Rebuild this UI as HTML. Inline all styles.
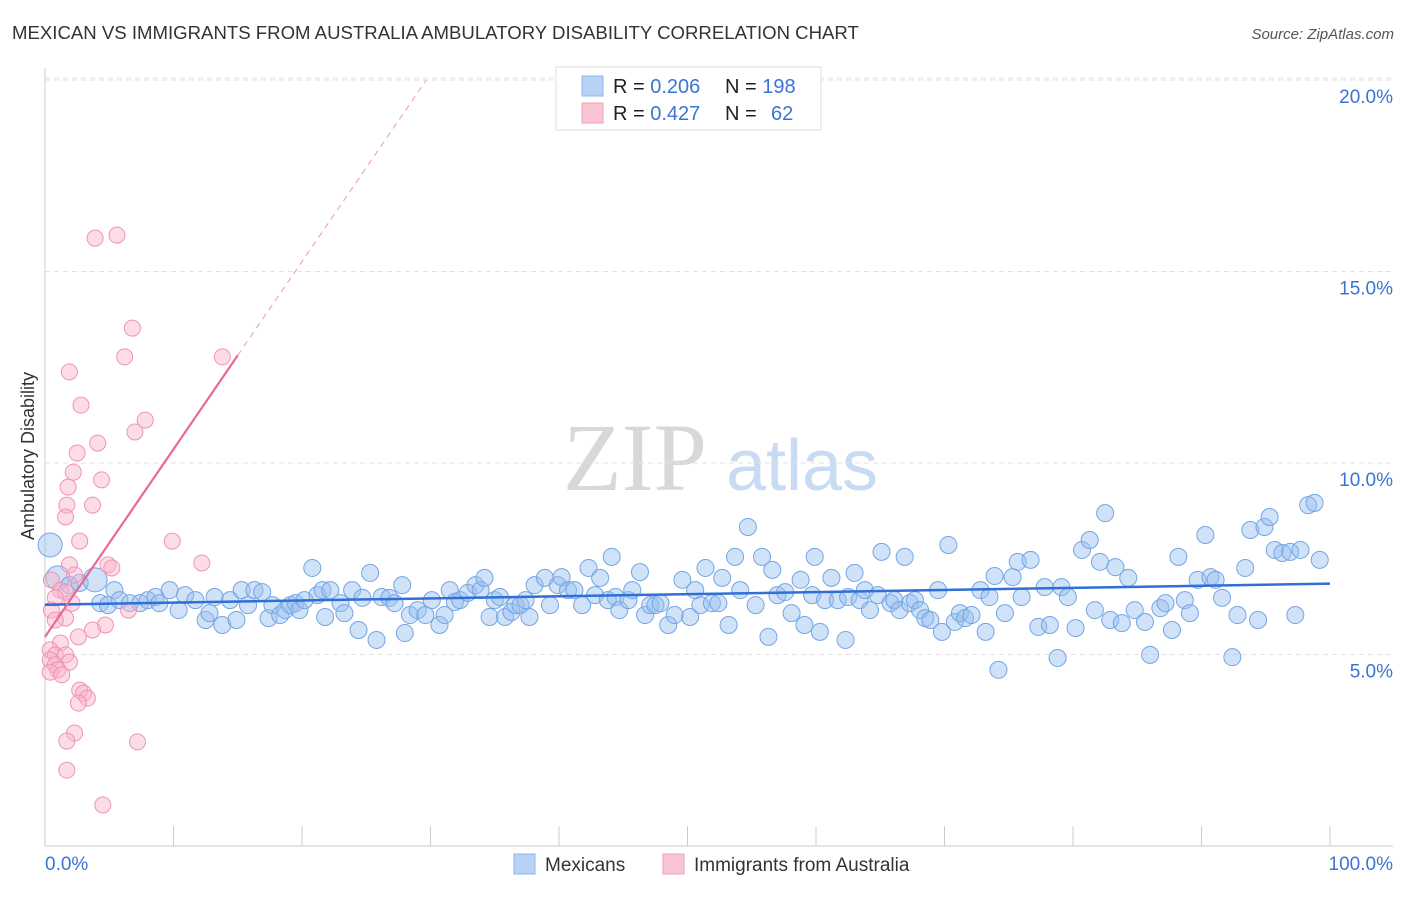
<!DOCTYPE html>
<html><head><meta charset="utf-8"><style>
body{margin:0;background:#fff;font-family:"Liberation Sans",sans-serif;}
svg text{font-family:"Liberation Sans",sans-serif;}
</style></head><body>
<svg id="chart" width="1406" height="892" xmlns="http://www.w3.org/2000/svg">
<text x="12" y="39" font-size="18.6" fill="#333">MEXICAN VS IMMIGRANTS FROM AUSTRALIA AMBULATORY DISABILITY CORRELATION CHART</text>
<text x="1394" y="39" font-size="15" fill="#555" font-style="italic" text-anchor="end">Source: ZipAtlas.com</text>
<g>
<text x="635" y="490" font-size="96" fill="#d8d8d8" text-anchor="middle" style="font-family:'Liberation Serif',serif">ZIP</text>
<text x="802" y="490" font-size="72" fill="#c9dbf2" text-anchor="middle">atlas</text>
</g>
<g id="grid"></g>
<g id="axes"></g>
<g id="pts"></g>
<g id="trend"></g>
<text transform="translate(34,456) rotate(-90)" font-size="18" fill="#333" text-anchor="middle">Ambulatory Disability</text>
<g>
<rect x="556" y="67" width="265" height="63" fill="#fff" stroke="#ddd"/>
<rect x="582" y="76" width="21" height="20" fill="#b7d2f5" stroke="#8fb5ea"/>
<rect x="582" y="103" width="21" height="20" fill="#f9c5d5" stroke="#f0a0b9"/>
<text x="613" y="93" font-size="20" fill="#222">R = <tspan fill="#3b74d4">0.206</tspan></text>
<text x="725" y="93" font-size="20" fill="#222">N = <tspan fill="#3b74d4">198</tspan></text>
<text x="613" y="120" font-size="20" fill="#222">R = <tspan fill="#3b74d4">0.427</tspan></text>
<text x="725" y="120" font-size="20" fill="#222">N = </text>
<text x="771" y="120" font-size="20" fill="#3b74d4">62</text>
</g>
<g>
<rect x="514" y="854" width="21" height="20" fill="#b7d2f5" stroke="#8fb5ea"/>
<text x="545" y="871" font-size="19" fill="#333">Mexicans</text>
<rect x="663" y="854" width="21" height="20" fill="#f9c5d5" stroke="#f0a0b9"/>
<text x="694" y="871" font-size="19" fill="#333">Immigrants from Australia</text>
</g>
</svg>
<script>
const yTicks=[5,10,15,20];
const yTickLabels=["5.0%","10.0%","15.0%","20.0%"];
const xTickLabels=["0.0%","100.0%"];
const blueX=[0.4,1.0,1.9,2.7,3.9,4.3,4.9,5.4,5.8,6.6,7.4,8.0,8.6,8.9,9.7,10.4,10.9,11.7,12.5,12.8,13.2,13.8,14.4,14.9,15.3,15.8,16.3,16.9,17.4,17.7,18.3,18.7,19.1,19.5,19.8,20.2,20.8,21.2,21.6,21.8,22.2,23.0,23.3,23.9,24.4,24.7,25.3,25.8,26.2,26.8,27.2,27.8,28.0,28.4,29.0,29.6,30.1,30.7,31.1,31.5,31.9,32.3,32.9,33.5,33.9,34.2,34.6,35.0,35.4,35.8,36.3,36.6,37.0,37.4,37.7,38.1,38.9,39.3,39.9,40.2,40.7,41.2,41.8,42.3,42.8,43.2,43.8,44.1,44.4,44.7,45.4,45.7,46.3,46.7,47.1,47.5,47.9,48.5,49.0,49.6,50.2,50.6,51.0,51.4,51.9,52.4,52.7,53.2,53.7,54.1,54.7,55.3,55.8,56.3,56.6,57.0,57.6,58.1,58.8,59.1,59.7,59.9,60.3,60.7,61.2,61.7,62.3,62.5,63.0,63.4,63.8,64.2,64.8,65.1,65.8,66.1,66.5,66.9,67.3,67.7,68.1,68.5,68.9,69.5,69.8,70.3,70.8,71.2,71.6,72.1,72.8,73.2,73.5,73.9,74.2,74.7,75.3,75.7,76.0,76.7,77.3,77.8,78.2,78.8,79.1,79.6,80.2,80.7,81.3,81.7,82.1,82.5,82.9,83.3,83.8,84.3,84.8,85.6,86.0,86.8,87.2,87.7,88.2,88.7,89.1,89.7,90.3,90.7,91.1,91.6,92.4,92.8,93.4,93.8,94.4,94.9,95.3,95.7,96.3,96.9,97.3,97.7,98.3,98.8,99.2];
const blueY=[7.86,7.0,6.81,6.87,6.95,6.34,6.29,6.68,6.42,6.34,6.34,6.42,6.5,6.34,6.68,6.16,6.55,6.42,5.9,6.08,6.5,5.77,6.42,5.9,6.68,6.29,6.68,6.63,5.95,6.29,6.03,6.16,6.29,6.34,6.16,6.42,7.26,6.55,6.68,5.98,6.68,6.34,6.08,6.68,5.64,6.48,7.13,5.38,6.5,6.48,6.34,6.81,5.56,6.03,6.16,6.03,6.42,5.77,6.03,6.68,6.37,6.42,6.61,6.81,6.68,7.0,5.98,6.42,6.5,5.98,6.11,6.29,6.29,6.42,5.98,6.81,7.0,6.29,6.81,7.02,6.68,6.68,6.29,7.26,6.55,7.0,6.42,7.55,6.5,6.16,6.42,6.68,7.15,6.03,6.29,6.29,6.34,5.77,6.03,6.95,5.98,6.68,6.29,7.26,6.34,6.34,7.0,5.77,7.55,6.68,8.33,6.29,7.55,5.46,7.21,6.55,6.63,6.08,6.95,5.77,6.55,7.55,5.59,6.42,7.0,6.42,5.38,6.5,7.13,6.42,6.68,6.16,6.55,7.68,6.34,6.42,6.16,7.55,6.34,6.42,6.16,5.95,5.9,6.68,5.59,7.86,5.85,6.08,5.95,6.03,6.68,5.59,6.5,7.05,4.6,6.08,7.02,7.42,6.5,7.47,5.72,6.76,5.77,4.91,6.76,6.5,5.69,7.73,7.99,6.16,7.42,8.69,5.9,7.28,5.82,7.0,6.16,5.85,4.99,6.21,6.34,5.64,7.55,6.42,6.08,6.95,8.12,7.02,6.95,6.48,4.93,6.03,7.26,8.25,5.9,8.33,8.59,7.73,7.65,7.68,6.03,7.73,8.9,8.96,7.47];
const pinkX=[3.9,5.6,6.8,6.2,13.8,1.9,2.8,7.8,7.0,4.1,2.5,2.2,1.8,4.4,1.7,3.7,1.6,2.7,9.9,4.9,12.2,5.2,1.9,2.3,0.5,1.2,1.6,2.1,0.8,6.5,0.5,1.6,0.8,4.7,3.7,2.6,1.2,0.4,0.8,1.6,0.4,1.9,0.8,1.0,0.4,1.3,2.7,3.0,3.3,2.6,2.3,1.7,7.2,1.7,4.5];
const pinkY=[15.87,15.95,13.52,12.77,12.77,12.38,11.51,11.12,10.81,10.52,10.26,9.76,9.37,9.56,8.9,8.9,8.59,7.96,7.96,7.34,7.39,7.26,7.34,7.08,6.95,6.68,6.63,6.34,6.48,6.16,6.16,5.95,5.9,5.77,5.64,5.46,5.3,5.12,4.99,4.99,4.86,4.8,4.73,4.6,4.54,4.47,4.07,3.99,3.86,3.73,2.95,2.74,2.72,1.98,1.07];
const blueTrend=[6.3,6.85];
const pinkTrend=[5.46,0.49];

(function(){
const NS="http://www.w3.org/2000/svg";
const X0=45,X1=1330,Y0=846,PXY=38.3;
const xs=v=>X0+(X1-X0)*v/100;
const ys=v=>Y0-v*PXY;
function mk(tag,attrs,parent){const e=document.createElementNS(NS,tag);for(const k in attrs)e.setAttribute(k,attrs[k]);document.getElementById(parent).appendChild(e);return e;}
yTicks.forEach((t,i)=>{
  const g=mk('line',{x1:X0,x2:1393,y1:ys(t),y2:ys(t),stroke:'#e2e2e2','stroke-dasharray':'5,4'},'grid');
  
  
  const l=mk('text',{x:1393,y:ys(t)+23,'font-size':19,fill:'#3b74d4','text-anchor':'end'},'axes');
  l.textContent=yTickLabels[i];
  
  
});
const topGrid=mk('line',{x1:X0,x2:1393,y1:78,y2:78,stroke:'#e2e2e2','stroke-dasharray':'5,4'},'grid');


const ax=mk('line',{x1:X0,x2:X0,y1:68,y2:Y0,stroke:'#ccc'},'axes');


const bx=mk('line',{x1:X0,x2:1393,y1:Y0,y2:Y0,stroke:'#ccc'},'axes');


for(let i=1;i<=10;i++){
  const t=mk('line',{x1:xs(i*10),x2:xs(i*10),y1:826,y2:Y0,stroke:'#ccc'},'axes');
  
  
}
const xl0=mk('text',{x:X0,y:870,'font-size':19,fill:'#3b74d4'},'axes');xl0.textContent=xTickLabels[0];


const xl1=mk('text',{x:1393,y:870,'font-size':19,fill:'#3b74d4','text-anchor':'end'},'axes');xl1.textContent=xTickLabels[1];


blueX.forEach((x,i)=>{
  const big=(i===0||i===1||i===4);
  const c=mk('circle',{cx:xs(x),cy:ys(blueY[i]),r:big?12:8.5,fill:'rgba(150,190,240,0.45)',stroke:'#74a5e4','stroke-width':1},'pts');
  
  
});
pinkX.forEach((x,i)=>{
  const c=mk('circle',{cx:xs(x),cy:ys(pinkY[i]),r:8,fill:'rgba(248,180,202,0.45)',stroke:'#f093b2','stroke-width':1},'pts');
  
  
});
const bt=mk('line',{x1:xs(0),y1:ys(blueTrend[0]),x2:xs(100),y2:ys(blueTrend[1]),stroke:'#2f6fd6','stroke-width':2.5},'trend');


const pv=x=>pinkTrend[0]+pinkTrend[1]*x;
const pt=mk('line',{x1:xs(0),y1:ys(pv(0)),x2:xs(15),y2:ys(pv(15)),stroke:'#e8689a','stroke-width':2.2},'trend');


const xe=(20-pinkTrend[0])/pinkTrend[1];
const pd=mk('line',{x1:xs(15),y1:ys(pv(15)),x2:xs(xe),y2:ys(20),stroke:'#f0a6c0','stroke-width':1.2,'stroke-dasharray':'6,5'},'trend');


})();
</script>
</body></html>
